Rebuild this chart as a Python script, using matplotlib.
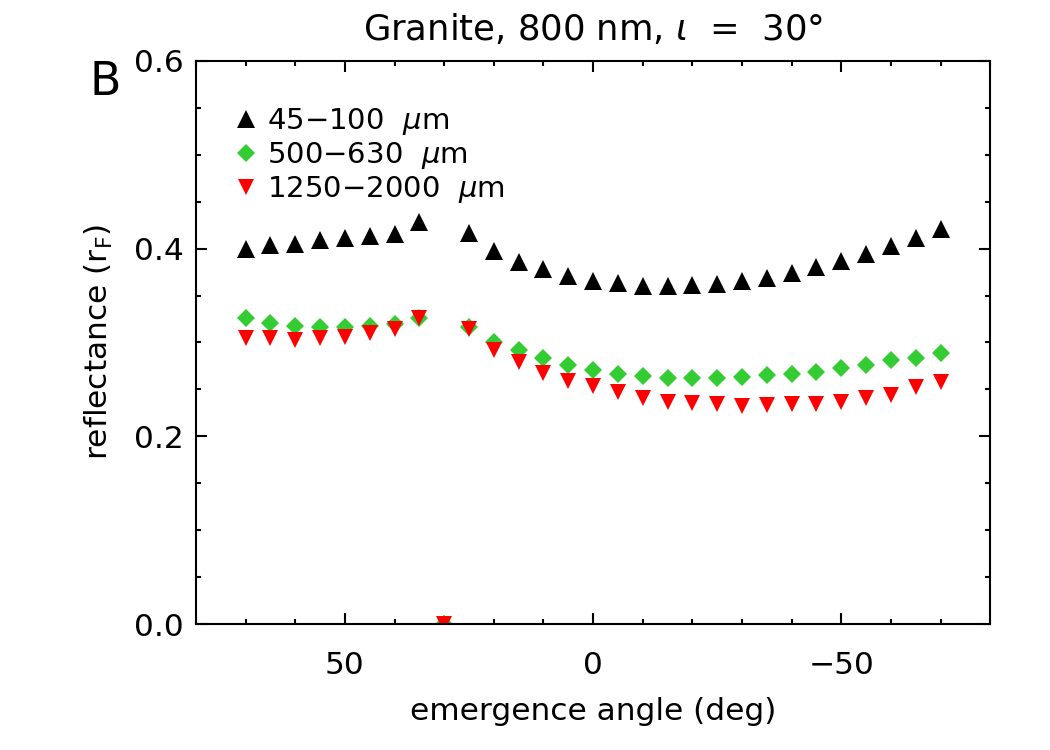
import matplotlib.pyplot as plt
import numpy as np
from matplotlib.ticker import MultipleLocator

# emergence angles (deg); 30 = incidence angle, no valid measurement there
angles = [70, 65, 60, 55, 50, 45, 40, 35, 30, 25, 20, 15, 10, 5, 0,
          -5, -10, -15, -20, -25, -30, -35, -40, -45, -50, -55, -60, -65, -70]

r_45_100 = [0.400, 0.404, 0.405, 0.409, 0.411, 0.413, 0.416, 0.428, 0.0, 0.417,
            0.398, 0.386, 0.378, 0.371, 0.366, 0.363, 0.360, 0.360, 0.361,
            0.362, 0.365, 0.369, 0.374, 0.380, 0.387, 0.394, 0.403, 0.411, 0.421]
r_500_630 = [0.326, 0.321, 0.318, 0.316, 0.316, 0.318, 0.320, 0.326, 0.0, 0.317,
             0.300, 0.292, 0.283, 0.276, 0.271, 0.266, 0.264, 0.262, 0.262,
             0.262, 0.263, 0.265, 0.266, 0.269, 0.273, 0.276, 0.281, 0.284, 0.289]
r_1250_2000 = [0.305, 0.305, 0.303, 0.305, 0.306, 0.310, 0.314, 0.326, 0.0, 0.314,
               0.292, 0.279, 0.268, 0.259, 0.254, 0.247, 0.241, 0.237, 0.235,
               0.234, 0.232, 0.233, 0.234, 0.234, 0.237, 0.241, 0.244, 0.253, 0.258]

labels = ['45\u2212100  $\\mu$m', '500\u2212630  $\\mu$m', '1250\u22122000  $\\mu$m']

fig = plt.figure(figsize=(7, 5), dpi=150)
ax = fig.add_axes([0.1867, 0.168, 0.7563, 0.7507])

ax.plot(angles, r_45_100, ls='none', marker='^', ms=8.5, color='black',
        mec='none', label=labels[0])
ax.plot(angles, r_500_630, ls='none', marker='D', ms=5.8, color='#33cc33',
        mec='none', label=labels[1])
ax.plot(angles, r_1250_2000, ls='none', marker='v', ms=8.0, color='#ff0000',
        mec='none', label=labels[2])

ax.set_xlim(80, -80)
ax.set_ylim(0, 0.6)
ax.xaxis.set_major_locator(MultipleLocator(50))
ax.xaxis.set_minor_locator(MultipleLocator(10))
ax.yaxis.set_major_locator(MultipleLocator(0.2))
ax.yaxis.set_minor_locator(MultipleLocator(0.05))
ax.yaxis.set_major_formatter(plt.FuncFormatter(lambda v, p: f'{v:.1f}'))
ax.xaxis.set_major_formatter(plt.FuncFormatter(lambda v, p: f'{v:.0f}'.replace('-', '\u2212')))

for s in ax.spines.values():
    s.set_linewidth(1.0)
ax.tick_params(which='both', direction='in', top=True, right=True, width=1.0,
               labelsize=15)
ax.tick_params(which='major', length=5.5)
ax.tick_params(which='minor', length=2.5)
ax.tick_params(axis='x', pad=13)
ax.tick_params(axis='y', pad=6)

ax.set_xlabel('emergence angle (deg)', fontsize=15, labelpad=8)
ax.set_ylabel(r'reflectance (r$_{\mathregular{F}}$)', fontsize=15, labelpad=9)
ax.set_title(r'Granite, 800 nm, $\iota$  =  30°', fontsize=17, pad=10)

fig.text(0.1, 0.89, 'B', fontsize=22, ha='center', va='center')

ax.legend(loc='upper left', bbox_to_anchor=(0.03, 0.94), frameon=False,
          fontsize=14, handletextpad=0.2, labelspacing=0.1, borderaxespad=0,
          handlelength=1.0, markerscale=1.0)

fig.savefig('out.png', dpi=150)
